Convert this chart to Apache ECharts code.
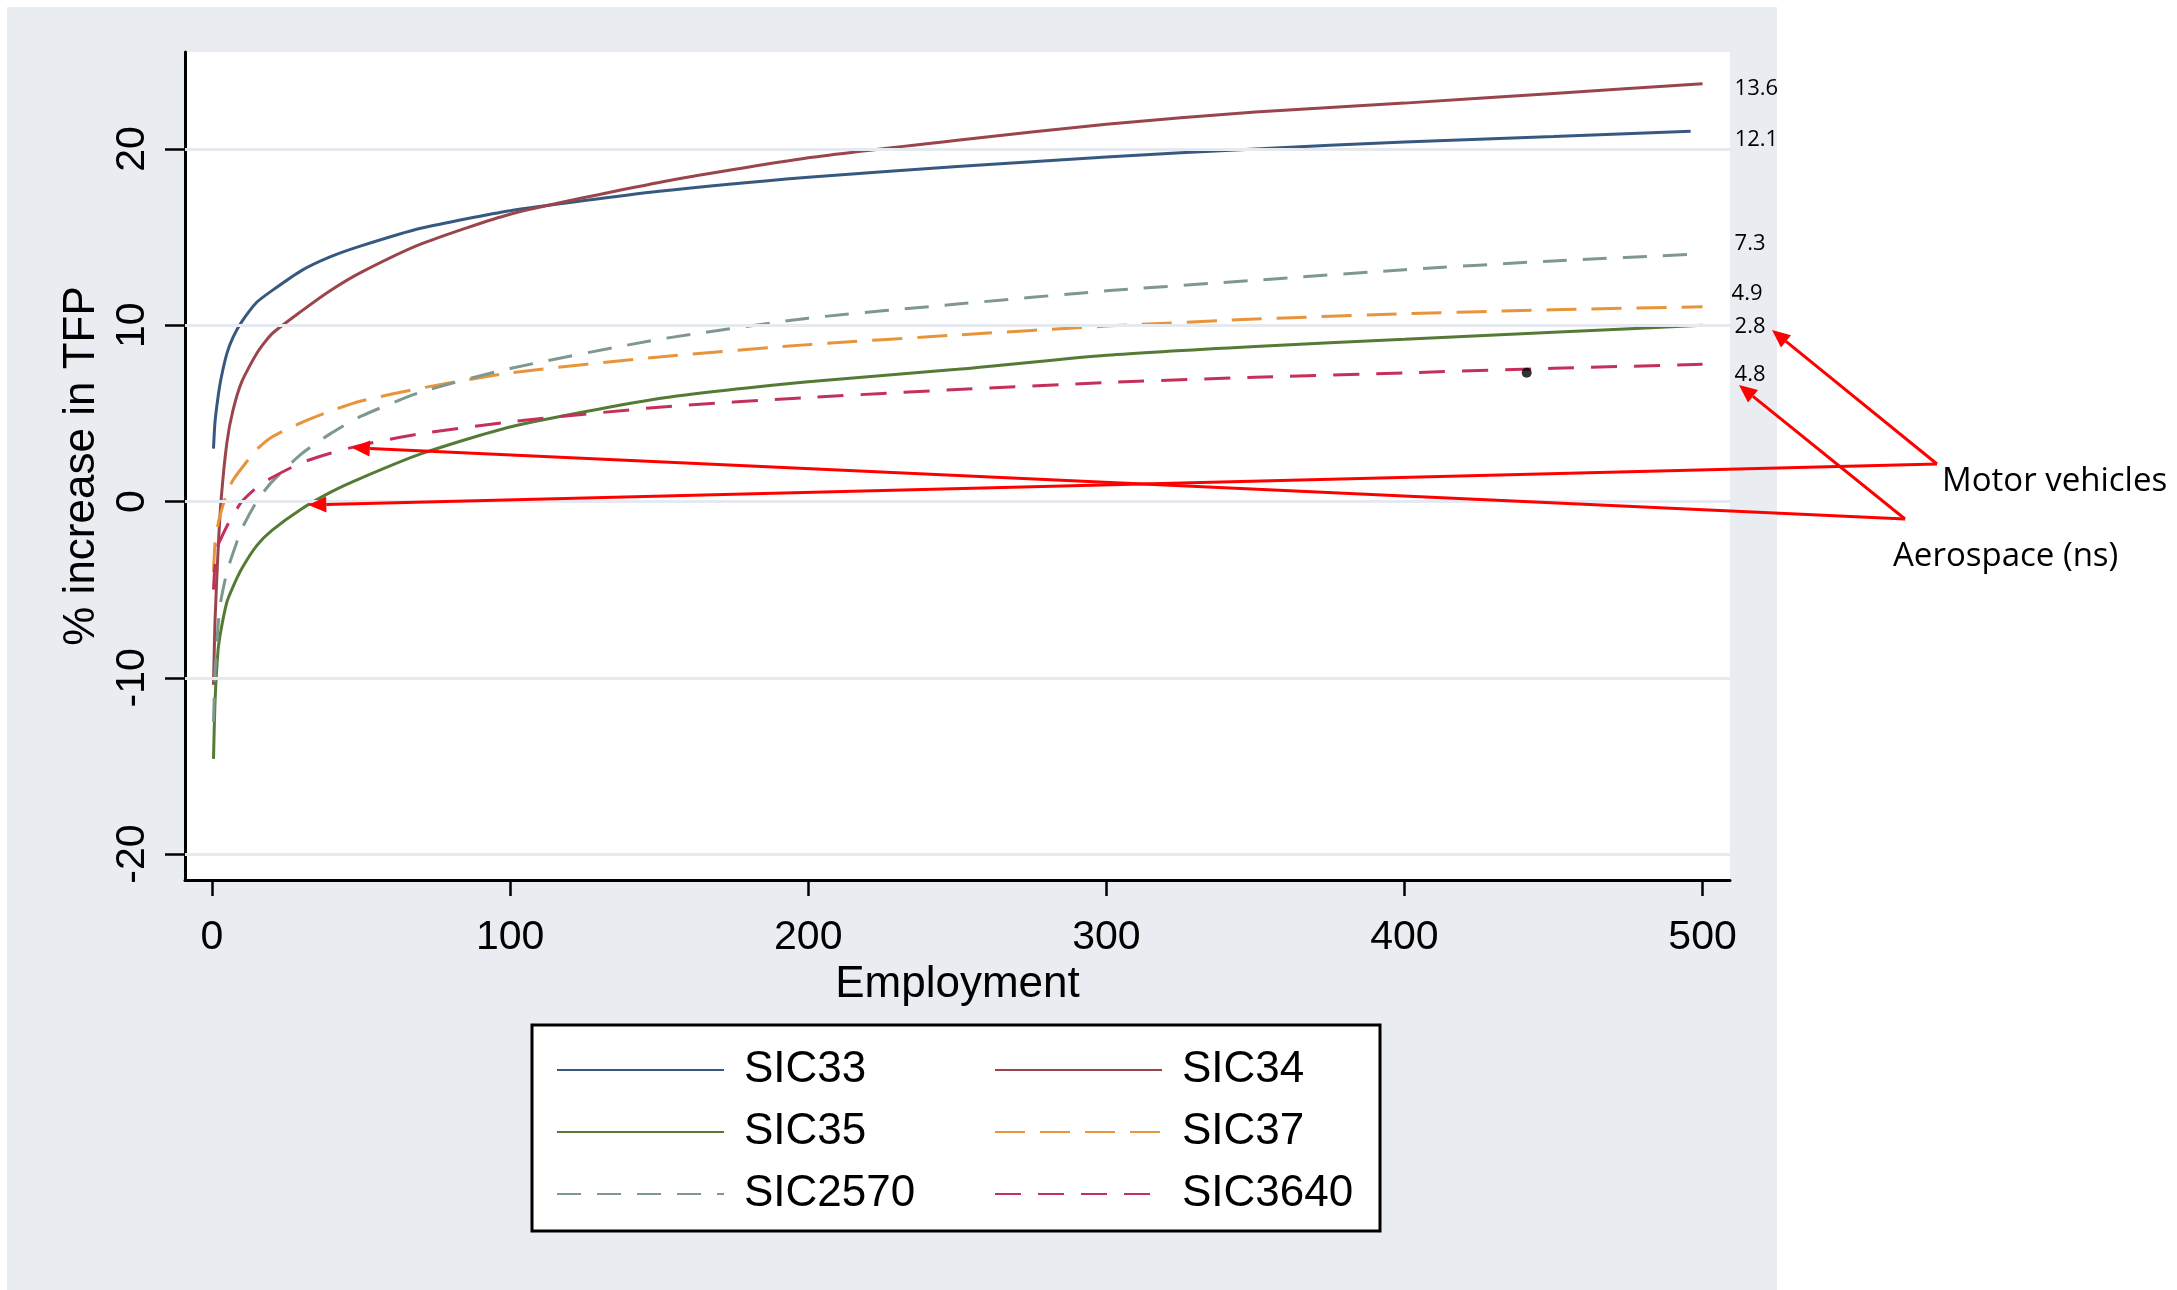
<!DOCTYPE html>
<html><head><meta charset="utf-8">
<script src="https://cdn.jsdelivr.net/npm/echarts@6/dist/echarts.min.js"></script>
<style>html,body{margin:0;padding:0;background:#fff}#c{width:2177px;height:1290px}</style>
</head><body><div id="c"></div>
<script>
// ---------- DATA ----------
const employment      = [0.5, 1, 2, 3, 5, 7, 10, 15, 20, 30, 40, 50, 70, 100, 150, 200, 250, 300, 350, 400, 450, 500];
const employmentSIC33 = [0.5, 1, 2, 3, 5, 7, 10, 15, 20, 30, 40, 50, 70, 100, 150, 200, 250, 300, 350, 400, 450, 496];
const seriesNames = ['SIC33', 'SIC34', 'SIC35', 'SIC37', 'SIC2570', 'SIC3640'];
const sic33   = [3.0, 4.5, 5.9, 6.95, 8.4, 9.3, 10.2, 11.3, 11.95, 13.1, 13.9, 14.5, 15.5, 16.5, 17.6, 18.4, 19.0, 19.55, 20.0, 20.4, 20.7, 21.0];
const sic34   = [-10.4, -6.8, -2.9, 0.0, 3.35, 5.15, 6.8, 8.4, 9.5, 10.8, 12.0, 13.0, 14.6, 16.3, 18.1, 19.5, 20.5, 21.4, 22.1, 22.6, 23.15, 23.7];
const sic35   = [-14.6, -11.4, -8.5, -7.3, -5.7, -4.85, -3.8, -2.5, -1.65, -0.42, 0.55, 1.33, 2.7, 4.23, 5.85, 6.8, 7.5, 8.3, 8.8, 9.2, 9.6, 10.0];
const sic37   = [-4.0, -2.4, -1.3, -0.6, 0.5, 1.2, 1.9, 2.95, 3.65, 4.48, 5.15, 5.7, 6.43, 7.3, 8.2, 8.9, 9.45, 9.95, 10.35, 10.65, 10.88, 11.05];
const sic2570 = [-12.5, -9.8, -7.1, -5.6, -4.0, -2.95, -1.55, 0.0, 1.1, 2.7, 3.88, 4.84, 6.2, 7.55, 9.2, 10.4, 11.2, 11.95, 12.55, 13.15, 13.65, 14.05];
const sic3640 = [-5.0, -3.6, -2.5, -2.1, -1.4, -0.8, 0.0, 0.8, 1.35, 2.2, 2.75, 3.2, 3.85, 4.52, 5.35, 5.9, 6.35, 6.75, 7.05, 7.3, 7.56, 7.78];
const endLabels = ['12.1', '13.6', '2.8', '4.9', '7.3', '4.8'];
const xTicks = [0, 100, 200, 300, 400, 500];
const yTicks = [-20, -10, 0, 10, 20];
const strayDot = [[441, 7.3]];
const annotationTexts = ['Motor vehicles', 'Aerospace (ns)'];
const annotationTargets = [[32.3, -0.2], [46.9, 3.05]]; // points on SIC35 / SIC3640 curves

// ---------- STYLE ----------
const FONT = '"Liberation Sans", Arial, sans-serif';
const ANN_FONT = '"Open Sans", "Noto Sans", sans-serif';
const styles = [
  {color: '#37597f', type: 'solid', off: [39, 8]},
  {color: '#9a454c', type: 'solid', off: [27, 5]},
  {color: '#557a35', type: 'solid', off: [27, 1]},
  {color: '#e8943a', type: [30, 15], off: [24, -13]},
  {color: '#7f988f', type: [24, 16], off: [27, -10]},
  {color: '#c5305a', type: [26, 17], off: [27, 10]}
];
const values = [sic33, sic34, sic35, sic37, sic2570, sic3640];

const chart = echarts.init(document.getElementById('c'), null, {renderer: 'canvas'});

const lineSeries = seriesNames.map((name, i) => {
  const xs = i === 0 ? employmentSIC33 : employment;
  return {
    name, type: 'line', z: 3,
    data: xs.map((x, k) => [x, values[i][k]]),
    symbol: 'none', showSymbol: false, smooth: 0.2, clip: false,
    lineStyle: {color: styles[i].color, width: 3, type: styles[i].type, cap: 'butt'},
    itemStyle: {color: styles[i].color},
    endLabel: {
      show: true, formatter: endLabels[i], color: '#000',
      fontFamily: ANN_FONT, fontSize: 22, distance: 5, offset: styles[i].off
    },
    emphasis: {disabled: true}
  };
});

const legendCommon = {
  orient: 'vertical', itemWidth: 167, itemHeight: 14, itemGap: 18,
  selectedMode: false,
  itemStyle: {opacity: 0, borderWidth: 0},
  formatter: n => '{s| }' + n,
  textStyle: {fontFamily: FONT, fontSize: 44, color: '#000', lineHeight: 44, rich: {s: {width: 15, fontSize: 44}}}
};

const option = {
  animation: false,
  backgroundColor: '#e9edf2',
  grid: {left: 185, right: 447, top: 52, bottom: 410, show: true, backgroundColor: '#ffffff', borderWidth: 0},
  xAxis: {
    type: 'value', min: -9.06, max: 509.2,
    name: 'Employment', nameLocation: 'middle', nameGap: 72,
    nameTextStyle: {fontFamily: FONT, fontSize: 44, color: '#000'},
    axisLine: {onZero: false, lineStyle: {color: '#000', width: 3}},
    axisTick: {show: true, length: 16, customValues: xTicks, lineStyle: {color: '#000', width: 2.5}},
    axisLabel: {customValues: xTicks, margin: 37, fontFamily: FONT, fontSize: 41, color: '#000'},
    splitLine: {show: false}
  },
  yAxis: {
    type: 'value', min: -21.47, max: 25.5,
    name: '% increase in TFP', nameLocation: 'middle', nameGap: 77,
    nameTextStyle: {fontFamily: FONT, fontSize: 44, color: '#000'},
    axisLine: {onZero: false, lineStyle: {color: '#000', width: 3}},
    axisTick: {show: true, length: 20, customValues: yTicks, lineStyle: {color: '#000', width: 2.5}},
    axisLabel: {customValues: yTicks, rotate: 90, margin: 32, fontFamily: FONT, fontSize: 41, color: '#000'},
    splitLine: {show: false}
  },
  legend: [
    Object.assign({}, legendCommon, {left: 551, top: 1043, data: ['SIC33', 'SIC35', 'SIC2570']}),
    Object.assign({}, legendCommon, {left: 989, top: 1043, data: ['SIC34', 'SIC37', 'SIC3640']})
  ],
  series: [
    {
      name: 'gridlines', type: 'line', data: [], z: 1, silent: true,
      markLine: {
        silent: true, symbol: 'none', label: {show: false},
        lineStyle: {color: '#e6e9ef', width: 3, type: 'solid'},
        data: yTicks.map(v => ({yAxis: v}))
      }
    },
    ...lineSeries,
    {
      name: 'dot', type: 'scatter', data: strayDot, symbolSize: 10, z: 4,
      itemStyle: {color: '#000'}, silent: true
    }
  ]
};
chart.setOption(option);

// ---------- ANNOTATIONS (arrows + legend frame + margins) ----------
const annotationLayout = [
  {textPos: [1942, 482], vertex: [1937, 464], labelTip: [1772, 330]},
  {textPos: [1893, 557], vertex: [1905, 519], labelTip: [1739, 385]}
];
function arrow(from, tip, id) {
  const dx = from[0] - tip[0], dy = from[1] - tip[1];
  const L = Math.hypot(dx, dy), ux = dx / L, uy = dy / L;
  const hl = 18, hw = 8;
  const bx = tip[0] + ux * hl, by = tip[1] + uy * hl;
  return [
    {type: 'line', id: id + 'l', z: 100, shape: {x1: from[0], y1: from[1], x2: bx, y2: by},
     style: {stroke: '#ff0000', lineWidth: 3}},
    {type: 'polygon', id: id + 'h', z: 100,
     shape: {points: [tip, [bx - uy * hw, by + ux * hw], [bx + uy * hw, by - ux * hw]]},
     style: {fill: '#ff0000'}}
  ];
}
const graphics = [
  {type: 'rect', id: 'wTop', z: 0, shape: {x: 0, y: 0, width: 2177, height: 7}, style: {fill: '#fff'}},
  {type: 'rect', id: 'wLeft', z: 0, shape: {x: 0, y: 0, width: 7, height: 1290}, style: {fill: '#fff'}},
  {type: 'rect', id: 'wRight', z: 0, shape: {x: 1777, y: 0, width: 400, height: 1290}, style: {fill: '#fff'}},
  {type: 'rect', id: 'legBox', z: 1, shape: {x: 532, y: 1025, width: 848, height: 206},
   style: {fill: '#fff', stroke: '#000', lineWidth: 3}}
];
annotationLayout.forEach((a, i) => {
  const tipCurve = chart.convertToPixel({gridIndex: 0}, annotationTargets[i]);
  graphics.push(...arrow(a.vertex, a.labelTip, 'a' + i + 'a'));
  graphics.push(...arrow(a.vertex, tipCurve, 'a' + i + 'b'));
  graphics.push({type: 'text', id: 't' + i, z: 100, x: a.textPos[0], y: a.textPos[1],
    style: {text: annotationTexts[i], fill: '#000', font: '33px ' + ANN_FONT, textVerticalAlign: 'middle', textAlign: 'left'}});
});
chart.setOption({graphic: graphics});
</script>
</body></html>
